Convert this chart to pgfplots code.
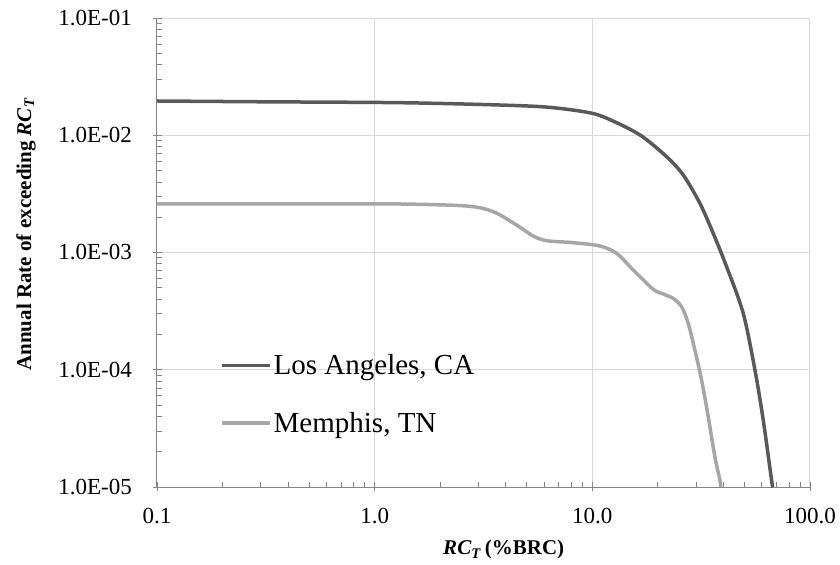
\documentclass[border=0pt]{standalone}
\usepackage{fontspec}
\setmainfont{Liberation Serif}
\usepackage{pgfplots}
\pgfplotsset{compat=1.18}
\definecolor{gridgray}{HTML}{D9D9D9}
\definecolor{axisgray}{HTML}{868686}
\definecolor{lacolor}{HTML}{595959}
\definecolor{memcolor}{HTML}{A6A6A6}

\begin{document}
\begin{tikzpicture}
\path[use as bounding box] (-157bp,-78bp) rectangle (683bp,487bp);
\begin{axis}[
  at={(0,0)}, anchor=south west,
  width=653bp, height=469bp, scale only axis,
  xmode=log, ymode=log,
  xmin=0.1, xmax=100, ymin=1e-5, ymax=1e-1,
  axis lines*=left,
  axis line style={axisgray, line width=1bp},
  xtick={0.1,1,10,100},
  xticklabels={0.1,1.0,10.0,100.0},
  ytick={1e-5,1e-4,1e-3,1e-2,1e-1},
  yticklabels={1.0E-05,1.0E-04,1.0E-03,1.0E-02,1.0E-01},
  minor xtick={0.2,0.3,0.4,0.5,0.6,0.7,0.8,0.9,2,3,4,5,6,7,8,9,20,30,40,50,60,70,80,90},
  minor ytick={2e-5,3e-5,4e-5,5e-5,6e-5,7e-5,8e-5,9e-5,
               2e-4,3e-4,4e-4,5e-4,6e-4,7e-4,8e-4,9e-4,
               2e-3,3e-3,4e-3,5e-3,6e-3,7e-3,8e-3,9e-3,
               2e-2,3e-2,4e-2,5e-2,6e-2,7e-2,8e-2,9e-2},
  extra x ticks={0.1,1,10,100}, extra x tick labels={},
  extra x tick style={grid=none, tick align=outside, major tick length=4bp},
  extra y ticks={1e-5,1e-4,1e-3,1e-2,1e-1}, extra y tick labels={},
  extra y tick style={grid=none, tick align=outside, major tick length=4bp},
  tick align=inside, major tick length=5bp, minor tick length=5bp,
  tick style={axisgray, line width=0.8bp},
  grid=major, major grid style={gridgray, line width=1bp},
  ticklabel style={font=\fontsize{23bp}{27bp}\selectfont},
  xticklabel style={anchor=base, yshift=-36bp},
  yticklabel style={anchor=east, inner sep=0pt, xshift=-25bp},
  ylabel={\textbf{Annual Rate of exceeding \textit{RC}\textsubscript{\textit{T}}}},
  ylabel style={font=\fontsize{21bp}{25bp}\selectfont, at={(axis description cs:-0.2006,0.539)}, anchor=center},
  xlabel={\textbf{\textit{RC}\textsubscript{\textit{T}}\,(\%BRC)}},
  xlabel style={font=\fontsize{21bp}{25bp}\selectfont, at={(axis description cs:0.531,-0.134)}, anchor=center},
  legend style={at={(axis description cs:0.0965,0.287)}, anchor=north west,
    draw=none, fill=none, inner sep=0pt,
    font=\fontsize{29bp}{34bp}\selectfont, row sep=32bp,
    /tikz/every even column/.append style={column sep=4bp}},
  legend image code/.code={\draw[#1, line width=3.5bp] (0bp,0bp) -- (48bp,0bp);},
  legend cell align=left,
]
% Los Angeles hazard curve
\addplot[lacolor, line width=3.5bp, smooth] coordinates {
  (0.1,0.0196) (0.3,0.0193) (1.306,0.01896) (3.764,0.01811) (6.387,0.01729)
  (10.0,0.01538) (12.93,0.0128) (16.84,0.00985) (21.93,0.00657) (26.17,0.00458)
  (31.21,0.002626) (35.93,0.001457) (41.39,7.57e-4) (49.35,3.03e-4) (55.84,1.0e-4)
  (60.98,3.73e-5) (66.58,1.15e-5) (67.5,1.0e-5)
};
\addlegendentry{Los Angeles, CA}
% Memphis hazard curve
\addplot[memcolor, line width=3.5bp, smooth] coordinates {
  (0.1,2.6e-3) (0.5,2.6e-3) (1.306,2.593e-3) (2.645,2.492e-3) (3.507,2.23e-3)
  (4.488,1.716e-3) (5.354,1.382e-3) (6.166,1.261e-3) (8.175,1.213e-3) (10.84,1.136e-3)
  (12.93,9.84e-4) (15.42,7.09e-4) (19.05,4.85e-4) (21.18,4.43e-4) (23.54,4.06e-4)
  (25.7,3.45e-4) (27.58,2.49e-4) (29.6,1.47e-4) (31.76,8.18e-5) (34.08,3.98e-5)
  (36.57,1.81e-5) (38.56,1.15e-5) (38.9,1.0e-5)
};
\addlegendentry{Memphis, TN}
\end{axis}
\end{tikzpicture}
\end{document}
